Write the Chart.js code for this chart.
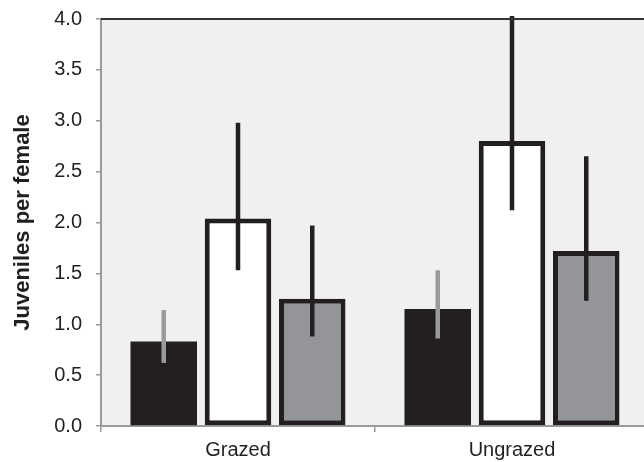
<!DOCTYPE html>
<html>
<head>
<meta charset="utf-8">
<script src="https://cdn.jsdelivr.net/npm/chart.js@4/dist/chart.umd.min.js"></script>
<style>
  html, body { margin: 0; padding: 0; background: #fff; overflow: hidden; }
  canvas { display: block; }
</style>
</head>
<body>
<canvas id="juv-canvas" width="660" height="462"></canvas>
<script>
'use strict';

// values
const categories = ['Grazed', 'Ungrazed'];
const darkMeans  = [0.83, 1.15];
const darkLow    = [0.62, 0.86];
const darkHigh   = [1.14, 1.53];
const whiteMeans = [2.04, 2.80];
const whiteLow   = [1.53, 2.12];
const whiteHigh  = [2.98, 4.03];
const greyMeans  = [1.25, 1.72];
const greyLow    = [0.88, 1.23];
const greyHigh   = [1.97, 2.65];
const yTicks     = [0, 0.5, 1, 1.5, 2, 2.5, 3, 3.5, 4];

const INK = '#231f20';
const AXIS = '#9a9a9a';
const FONT = 'Liberation Sans, Arial, sans-serif';

const plotBg = {
  id: 'plotBg',
  beforeDraw(chart) {
    const { ctx, chartArea: a } = chart;
    ctx.save();
    ctx.fillStyle = '#f0f0f0';
    ctx.fillRect(a.left, a.top, a.right - a.left, a.bottom - a.top);
    ctx.restore();
  },
  afterDraw(chart) {
    const { ctx, chartArea: a } = chart;
    ctx.save();
    ctx.strokeStyle = '#333';
    ctx.lineWidth = 2;
    ctx.beginPath();
    ctx.moveTo(a.left, a.top);
    ctx.lineTo(a.right, a.top);
    ctx.stroke();
    ctx.restore();
  }
};

const errBars = {
  id: 'errBars',
  afterDatasetsDraw(chart) {
    const { ctx } = chart;
    const y = chart.scales.y;
    ctx.save();
    chart.data.datasets.forEach((ds, i) => {
      const meta = chart.getDatasetMeta(i);
      meta.data.forEach((bar, j) => {
        ctx.strokeStyle = ds.errColor;
        ctx.lineWidth = 4.5;
        ctx.lineCap = 'butt';
        ctx.beginPath();
        ctx.moveTo(bar.x, y.getPixelForValue(ds.lo[j]));
        ctx.lineTo(bar.x, y.getPixelForValue(ds.hi[j]));
        ctx.stroke();
      });
    });
    ctx.restore();
  }
};

const barStyle = { borderColor: INK, borderWidth: 5, borderSkipped: false,
                   categoryPercentage: 0.813, barPercentage: 0.896 };

new Chart(document.getElementById('juv-canvas'), {
  type: 'bar',
  data: {
    labels: categories,
    datasets: [
      { label: 'dark',  data: darkMeans,  lo: darkLow,  hi: darkHigh,  backgroundColor: INK,       errColor: AXIS, ...barStyle, borderWidth: 0 },
      { label: 'white', data: whiteMeans, lo: whiteLow, hi: whiteHigh, backgroundColor: '#ffffff', errColor: INK,  ...barStyle },
      { label: 'grey',  data: greyMeans,  lo: greyLow,  hi: greyHigh,  backgroundColor: '#939598', errColor: INK,  ...barStyle },
    ]
  },
  options: {
    responsive: false, animation: false,
    layout: { padding: { top: 19, right: 11, left: 0, bottom: 0 } },
    plugins: { legend: { display: false }, tooltip: { enabled: false } },
    scales: {
      x: {
        offset: true,
        grid: { offset: true, drawOnChartArea: false, color: AXIS, tickLength: 6, lineWidth: 1.5 },
        border: { color: AXIS, width: 2 },
        ticks: { color: INK, padding: 6, font: { family: FONT, size: 20 } },
        afterFit: s => { s.height = 36; }
      },
      y: {
        min: 0, max: 4,
        afterBuildTicks: s => { s.ticks = yTicks.map(v => ({ value: v })); },
        grid: { drawOnChartArea: false, color: AXIS, tickLength: 5, lineWidth: 1.5 },
        border: { color: AXIS, width: 2 },
        ticks: { color: INK, padding: 14, font: { family: FONT, size: 20 }, callback: v => Number(v).toFixed(1) },
        title: { display: true, text: 'Juveniles per female', color: INK, padding: { top: 10, bottom: 0 },
                 font: { family: FONT, size: 22, weight: 'bold' } },
        afterFit: s => { s.width = 101; s.paddingTop = 0; s.paddingBottom = 0; }
      }
    }
  },
  plugins: [plotBg, errBars]
});
</script>
</body>
</html>
